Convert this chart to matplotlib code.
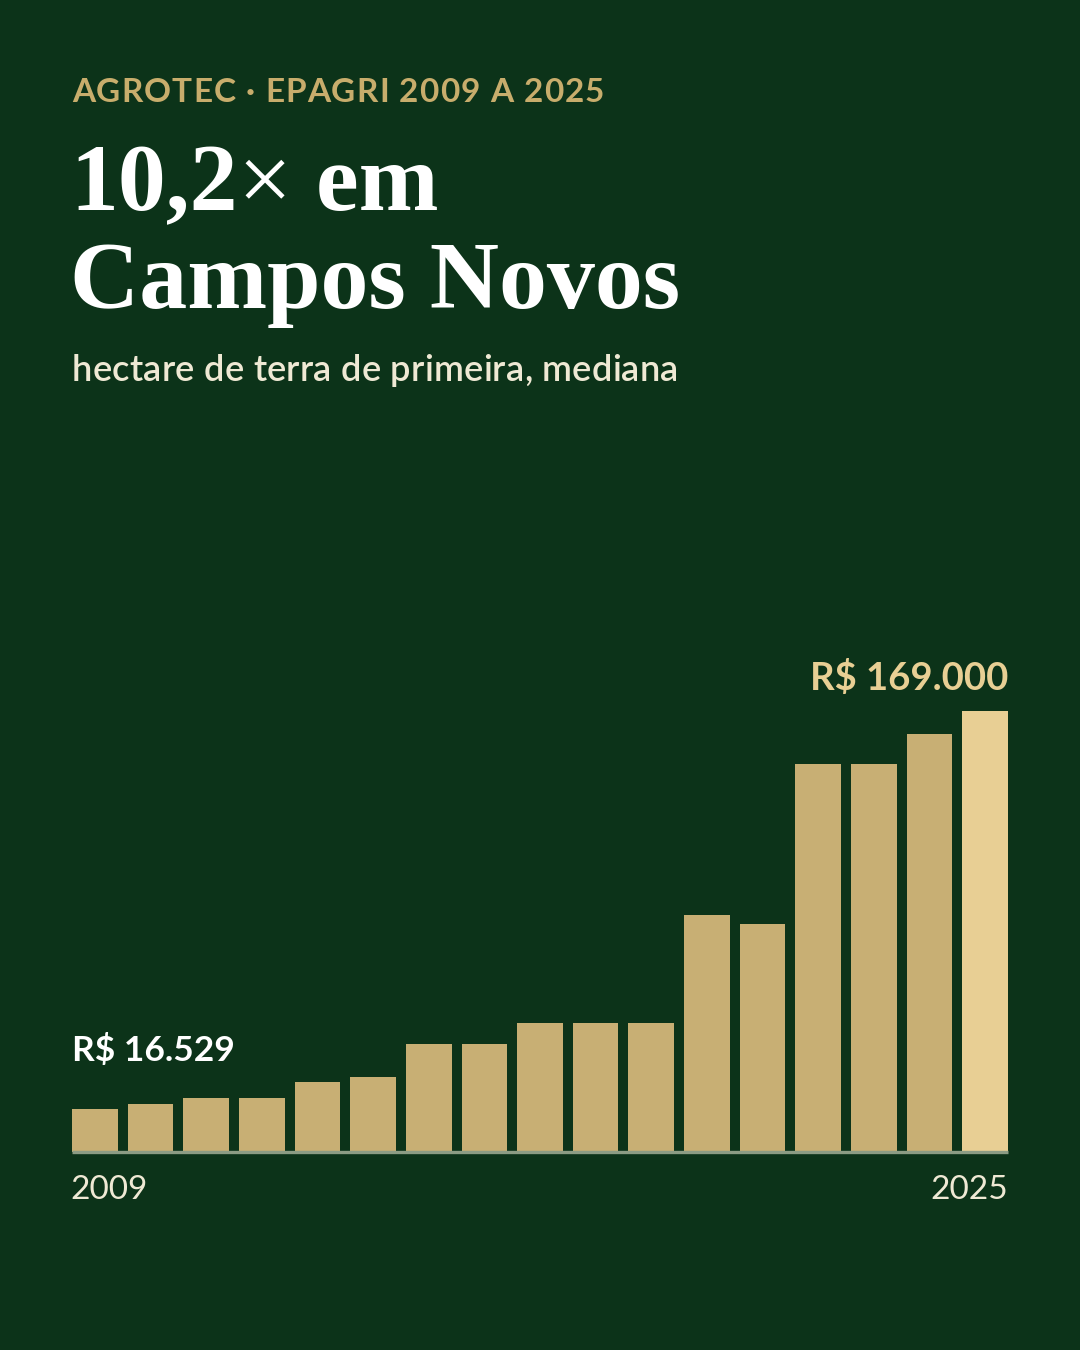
import matplotlib
matplotlib.use("Agg")
import matplotlib.pyplot as plt

years = list(range(2009, 2026))
values = [16529, 18400, 20700, 20700, 26900, 28800, 41500, 41500,
          49500, 49500, 49500, 91000, 87200, 148600, 148600, 160200, 169000]
first_label = "R$ 16.529"
last_label = "R$ 169.000"
kicker = "AGROTEC · EPAGRI 2009 A 2025"
title_parts = ["10,2", "×", " em"]
title_line2 = "Campos Novos"
subtitle = "hectare de terra de primeira, mediana"

BG = "#0c3319"
BAR = "#c8af74"
BAR_HL = "#e8cf94"
GOLD = "#c8ad6c"
CREAM = "#efe9d4"
BASE = "#8c9c84"

W, H = 1080, 1350
DPI = 100
fig = plt.figure(figsize=(W / DPI, H / DPI), dpi=DPI, facecolor=BG)
renderer = fig.canvas.get_renderer()

def fx(px):
    return px / W

def fy(py):
    return 1 - py / H

SANS = ["Lato", "DejaVu Sans"]
SERIF = ["Liberation Serif", "DejaVu Serif"]

def tracked_text(x0, y0, s, target_w, **kw):
    # draw char by char, spreading extra space to reach target width
    widths = []
    for ch in s:
        t = fig.text(0, 0, ch if ch != " " else "a a", **kw)
        w = t.get_window_extent(renderer=renderer).width
        if ch == " ":
            t2 = fig.text(0, 0, "aa", **kw)
            w = w - t2.get_window_extent(renderer=renderer).width
            t2.remove()
        t.remove()
        widths.append(w)
    natural = sum(widths)
    extra = (target_w - natural) / (len(s) - 1)
    x = x0
    for ch, w in zip(s, widths):
        if ch != " ":
            fig.text(fx(x), fy(y0), ch, ha="left", va="baseline", **kw)
        x += w + extra

# axes
left, right = 72, 1008
base_y, top_y = 1152, 711
ax = fig.add_axes([fx(left), fy(base_y), fx(right - left), (base_y - top_y) / H])
ax.set_facecolor(BG)
n = len(values)
bw = 0.82
xs = list(range(n))
colors = [BAR] * (n - 1) + [BAR_HL]
ax.bar(xs, values, width=bw, color=colors, linewidth=0, zorder=2)
ax.set_xlim(-bw / 2, n - 1 + bw / 2)
ax.set_ylim(0, max(values))
ax.axhline(0, color=BASE, lw=2.4, zorder=3, clip_on=False, solid_capstyle="butt")
for s in ax.spines.values():
    s.set_visible(False)
ax.set_xticks([])
ax.set_yticks([])

# bar labels
ax.annotate(first_label, xy=(xs[0] - bw / 2, values[0]), xytext=(0, 48),
            textcoords="offset pixels", ha="left", va="baseline",
            fontsize=25.5, fontweight="bold", color="white", family=SANS)
ax.annotate(last_label, xy=(xs[-1] + bw / 2, values[-1]), xytext=(0, 21),
            textcoords="offset pixels", ha="right", va="baseline",
            fontsize=27.5, fontweight="bold", color=BAR_HL, family=SANS)

# year labels
ax.annotate(str(years[0]), xy=(xs[0] - bw / 2, 0), xytext=(-2, -47),
            textcoords="offset pixels", ha="left", va="baseline",
            fontsize=24, color=CREAM, family=SANS)
ax.annotate(str(years[-1]), xy=(xs[-1] + bw / 2, 0), xytext=(0, -47),
            textcoords="offset pixels", ha="right", va="baseline",
            fontsize=24, color=CREAM, family=SANS)

# header texts
tracked_text(72, 102, kicker, 532, fontsize=24, fontweight="bold",
             color=GOLD, family=SANS)

x = 70
weights = ["bold", "normal", "bold"]
for txt, wt in zip(title_parts, weights):
    t = fig.text(fx(x), fy(210), txt, ha="left", va="baseline", fontsize=69,
                 fontweight=wt, color="white", family=SERIF)
    bb = t.get_window_extent(renderer=renderer)
    x += bb.width
fig.text(fx(70), fy(308), title_line2, ha="left", va="baseline", fontsize=69,
         fontweight="bold", color="white", family=SERIF)

tracked_text(72, 381, subtitle, 606, fontsize=26, fontweight="semibold",
             color=CREAM, family=SANS)

fig.savefig("out.png", dpi=DPI, facecolor=BG)
